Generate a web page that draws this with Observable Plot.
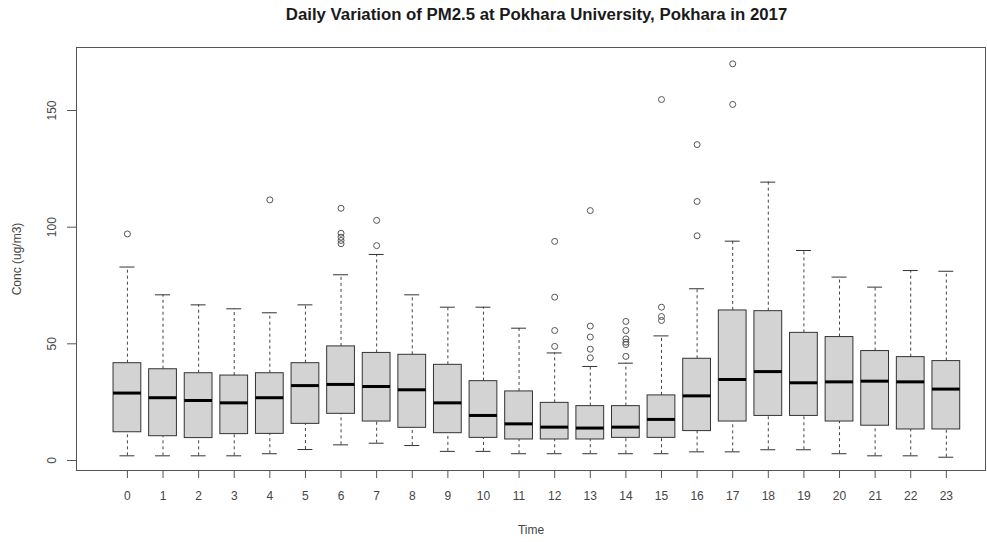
<!DOCTYPE html>
<html>
<head>
<meta charset="utf-8">
<script src="https://cdn.jsdelivr.net/npm/d3@7"></script>
<script src="https://cdn.jsdelivr.net/npm/@observablehq/plot@0.6"></script>
<style>
  html, body { margin: 0; padding: 0; background: #fff; }
  #title { height: 34px; line-height: 30px; font-family: "Liberation Sans", Arial, sans-serif; font-weight: bold; font-size: 16.8px; color: #1a1a1a; text-align: center; padding-left: 86px; box-sizing: border-box; width: 987px; white-space: nowrap; }
  #chart svg { display: block; }
</style>
</head>
<body>
<div id="title">Daily Variation of PM2.5 at Pokhara University, Pokhara in 2017</div>
<div id="chart"></div>
<script>
const hours       = [0, 1, 2, 3, 4, 5, 6, 7, 8, 9, 10, 11, 12, 13, 14, 15, 16, 17, 18, 19, 20, 21, 22, 23];
const lowWhisker  = [2.0, 2.0, 2.0, 2.0, 2.9, 4.7, 6.7, 7.4, 6.4, 3.9, 3.9, 2.9, 2.9, 2.9, 2.9, 2.9, 3.7, 3.7, 4.6, 4.6, 2.9, 2.0, 2.0, 1.4];
const q1          = [12.1, 10.4, 9.6, 11.3, 11.4, 15.7, 20.0, 16.7, 14.0, 11.7, 9.7, 9.0, 9.0, 9.0, 9.7, 9.7, 12.6, 16.7, 19.1, 19.1, 16.7, 14.9, 13.3, 13.3];
const median      = [28.9, 26.9, 25.7, 24.7, 26.9, 32.1, 32.6, 31.7, 30.3, 24.7, 19.3, 15.7, 14.3, 13.9, 14.3, 17.6, 27.7, 34.7, 38.1, 33.3, 33.7, 34.0, 33.7, 30.6];
const q3          = [41.7, 39.1, 37.4, 36.4, 37.4, 41.7, 48.9, 46.1, 45.3, 41.0, 34.0, 29.6, 24.7, 23.3, 23.3, 27.9, 43.6, 64.3, 64.0, 54.7, 52.9, 46.9, 44.3, 42.6];
const highWhisker = [82.9, 71.0, 66.7, 65.0, 63.3, 66.7, 79.6, 88.3, 71.0, 65.7, 65.7, 56.7, 46.1, 40.3, 41.7, 53.4, 73.6, 94.0, 119.3, 90.0, 78.6, 74.3, 81.4, 81.1];

const outlierHour  = [0, 4, 6, 6, 6, 6, 6, 7, 7, 12, 12, 12, 12, 13, 13, 13, 13, 13, 14, 14, 14, 14, 14, 14, 15, 15, 15, 15, 16, 16, 16, 17, 17];
const outlierValue = [97.1, 111.7, 108.1, 97.4, 95.7, 94.3, 92.9, 102.9, 92.1, 93.9, 70.0, 55.7, 48.9, 107.1, 57.6, 52.9, 47.7, 44.0, 59.6, 55.7, 52.1, 50.7, 49.7, 44.6, 154.7, 65.7, 61.7, 60.0, 135.4, 111.0, 96.3, 170.0, 152.6];

const yTicks = [0, 50, 100, 150];

const boxes = hours.map((h, i) => ({hour: h, lo: lowWhisker[i], q1: q1[i], med: median[i], q3: q3[i], hi: highWhisker[i]}));
const outliers = outlierHour.map((h, i) => ({hour: h, value: outlierValue[i]}));

const halfBox = 0.39;
const halfCap = 0.21;

const chart = Plot.plot({
  width: 987,
  height: 508,
  marginLeft: 76,
  marginRight: 2,
  marginTop: 13,
  marginBottom: 72,
  style: {fontFamily: "'Liberation Sans', Arial, sans-serif", fontSize: "12px", color: "#444", background: "#fff"},
  x: {type: "linear", domain: [-1.43, 24.1]},
  y: {domain: [-4.29, 177.0]},
  marks: [
    Plot.frame({stroke: "#555"}),
    // whiskers (dashed)
    Plot.ruleX(boxes, {x: "hour", y1: "q3", y2: "hi", stroke: "#444", strokeDasharray: "3,3"}),
    Plot.ruleX(boxes, {x: "hour", y1: "lo", y2: "q1", stroke: "#444", strokeDasharray: "3,3"}),
    // caps
    Plot.ruleY(boxes, {y: "hi", x1: d => d.hour - halfCap, x2: d => d.hour + halfCap, stroke: "#333"}),
    Plot.ruleY(boxes, {y: "lo", x1: d => d.hour - halfCap, x2: d => d.hour + halfCap, stroke: "#333"}),
    // boxes
    Plot.rect(boxes, {x1: d => d.hour - halfBox, x2: d => d.hour + halfBox, y1: "q1", y2: "q3", fill: "#d3d3d3", stroke: "#333", strokeWidth: 1}),
    // medians
    Plot.ruleY(boxes, {y: "med", x1: d => d.hour - halfBox, x2: d => d.hour + halfBox, stroke: "#000", strokeWidth: 3}),
    // outliers
    Plot.dot(outliers, {x: "hour", y: "value", r: 3, stroke: "#555", fill: "none", strokeWidth: 1}),
    Plot.axisX({ticks: hours, tickFormat: d => String(d), tickSize: 8, tickPadding: 13, label: "Time", labelAnchor: "center", labelArrow: "none", labelOffset: 63, stroke: "#555"}),
    Plot.axisY({ticks: yTicks, tickSize: 9, tickPadding: 12, tickRotate: -90, label: "Conc (ug/m3)", labelAnchor: "center", labelArrow: "none", labelOffset: 64, stroke: "#555"})
  ]
});
document.getElementById("chart").appendChild(chart);
</script>
</body>
</html>
